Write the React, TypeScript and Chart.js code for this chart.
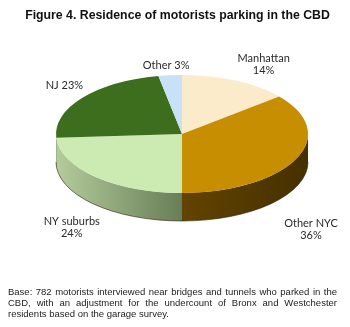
import React, { useEffect, useRef } from "react";
import { Chart, registerables } from "chart.js";

Chart.register(...registerables);

const categories = ["Manhattan", "Other NYC", "NY suburbs", "NJ", "Other"];
const shares = [14, 36, 24, 23, 3];
const labelLines = [["Manhattan", "14%"], ["Other NYC", "36%"], ["NY suburbs", "24%"], ["NJ 23%"], ["Other 3%"]];
const topColors = ["#FCEBCA", "#C88E02", "#CCEBB3", "#3D6E1E", "#C9E1F6"];
const sideLight = ["#C9B690", "#624400", "#B4CC9B", "#2F5617", "#9FB5C8"];
const sideDark = ["#A8946E", "#463000", "#677E57", "#254512", "#7F93A5"];

// layout (not data)
const TILT = 59 / 126;
const DEPTH = 28;
const labelNudge = [
  [28, -16],
  [15, 42],
  [-24, 22],
  [-18, -12],
  [-4, -10],
];

const pie3d = {
  id: "pie3d",
  beforeDatasetsDraw(chart: any) {
    const ctx = chart.ctx;
    const meta = chart.getDatasetMeta(0);
    const arcs = meta.data;
    if (!arcs.length) return;
    const cx = arcs[0].x;
    const cy = arcs[0].y;
    const rx = arcs[0].outerRadius;
    const ry = rx * TILT;
    const norm = (a: number) => ((a % (2 * Math.PI)) + 2 * Math.PI) % (2 * Math.PI);
    arcs.forEach((arc: any, i: number) => {
      const s = norm(arc.startAngle);
      const e = s + (arc.endAngle - arc.startAngle);
      const segs: [number, number][] = [];
      const ranges: [number, number][] = [[0, Math.PI], [2 * Math.PI, 3 * Math.PI]];
      ranges.forEach(([r1, r2]) => {
        const lo = Math.max(s, r1);
        const hi = Math.min(e, r2);
        if (hi > lo) segs.push([lo, hi]);
      });
      segs.forEach(([lo, hi]) => {
        const xa = cx + rx * Math.cos(lo);
        const xb = cx + rx * Math.cos(hi);
        const g = ctx.createLinearGradient(Math.min(xa, xb), 0, Math.max(xa, xb), 0);
        g.addColorStop(0, sideLight[i]);
        g.addColorStop(1, sideDark[i]);
        ctx.save();
        ctx.beginPath();
        ctx.ellipse(cx, cy, rx, ry, 0, lo, hi, false);
        ctx.ellipse(cx, cy + DEPTH, rx, ry, 0, hi, lo, true);
        ctx.closePath();
        ctx.fillStyle = g;
        ctx.fill();
        ctx.restore();
      });
    });
    ctx.save();
    ctx.beginPath();
    ctx.ellipse(cx, cy + DEPTH, rx, ry, 0, 0, Math.PI, false);
    ctx.strokeStyle = "rgba(40,30,10,0.6)";
    ctx.lineWidth = 1;
    ctx.stroke();
    ctx.restore();
    ctx.save();
    ctx.translate(0, cy);
    ctx.scale(1, TILT);
    ctx.translate(0, -cy);
  },
  afterDatasetsDraw(chart: any) {
    const ctx = chart.ctx;
    ctx.restore();
    const meta = chart.getDatasetMeta(0);
    const arcs = meta.data;
    if (!arcs.length) return;
    const cx = arcs[0].x;
    const cy = arcs[0].y;
    const rx = arcs[0].outerRadius;
    const ry = rx * TILT;
    ctx.save();
    ctx.font = "11px Lato, 'Open Sans', sans-serif";
    ctx.fillStyle = "#2a2a2a";
    ctx.textAlign = "center";
    ctx.textBaseline = "middle";
    arcs.forEach((arc: any, i: number) => {
      const mid = (arc.startAngle + arc.endAngle) / 2;
      const sn = Math.sin(mid);
      let x = cx + rx * Math.cos(mid);
      let y = cy + ry * sn + (sn > 0 ? DEPTH : 0);
      x += labelNudge[i][0];
      y += labelNudge[i][1];
      const lines = labelLines[i];
      const lh = 12;
      const y0 = y - ((lines.length - 1) * lh) / 2;
      lines.forEach((t, k) => ctx.fillText(t, x, y0 + k * lh));
    });
    ctx.restore();
  },
};

export default function App() {
  const ref = useRef<HTMLCanvasElement>(null);
  useEffect(() => {
    if (!ref.current) return;
    const chart = new Chart(ref.current, {
      type: "pie",
      data: {
        labels: categories,
        datasets: [
          {
            data: shares,
            backgroundColor: topColors,
            borderWidth: 0,
            clip: false,
          } as any,
        ],
      },
      options: {
        responsive: false,
        animation: false,
        layout: { padding: { left: 56, right: 42, top: 8, bottom: 67 } },
        plugins: {
          legend: { display: false },
          tooltip: { enabled: false },
          title: { display: false },
        },
      },
      plugins: [pie3d],
    });
    return () => chart.destroy();
  }, []);

  return (
    <div style={{ position: "fixed", left: 0, top: 0, width: 350, height: 327, background: "#fff", overflow: "hidden" }}>
      <canvas ref={ref} width={350} height={327} style={{ position: "absolute", left: 0, top: 0, width: 350, height: 327 }} />
      <div
        style={{
          position: "absolute",
          left: 0,
          top: 8,
          width: 355,
          textAlign: "center",
          font: "bold 12.3px 'Liberation Sans', Arial, sans-serif",
          color: "#111",
        }}
      >
        Figure 4. Residence of motorists parking in the CBD
      </div>
      <div
        style={{
          position: "absolute",
          left: 8,
          top: 286,
          width: 329,
          textAlign: "justify",
          font: "9.5px/11px 'Liberation Sans', Arial, sans-serif",
          color: "#222",
        }}
      >
        Base: 782 motorists interviewed near bridges and tunnels who parked in the CBD, with an adjustment for the undercount of Bronx and Westchester residents based on the garage survey.
      </div>
    </div>
  );
}
